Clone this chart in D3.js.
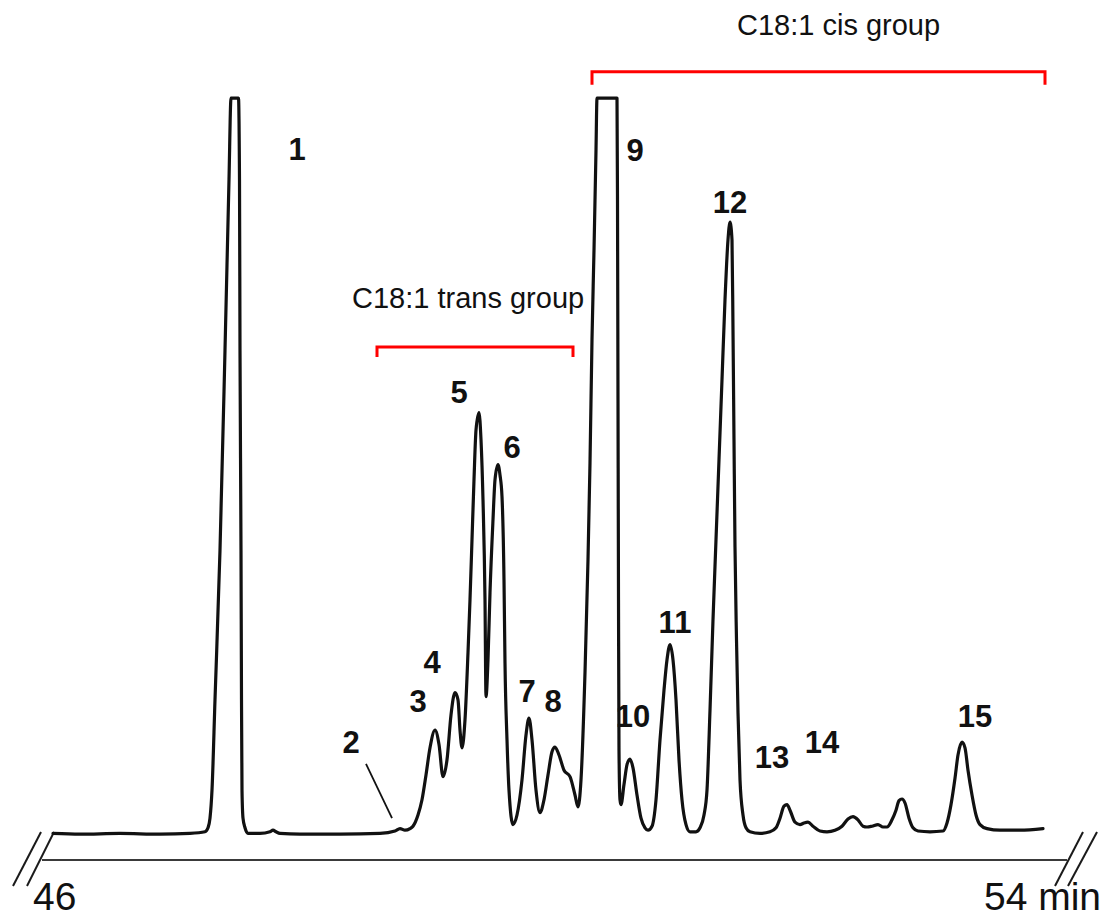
<!DOCTYPE html>
<html>
<head>
<meta charset="utf-8">
<script src="https://cdn.jsdelivr.net/npm/d3@7"></script>
<style>
  html, body { margin: 0; padding: 0; background: #fff; }
  svg { display: block; }
</style>
</head>
<body>
<svg id="chart" width="1105" height="918"></svg>
<script>
// Retention time (min) of each recorded point of the detector trace
const times = [
  46.024, 46.240, 46.560, 46.880, 47.120, 47.240,
  47.264, 47.280, 47.296, 47.320, 47.360, 47.400, 47.432, 47.448, 47.508, 47.516,
  47.520, 47.528, 47.532, 47.536, 47.544, 47.560, 47.584, 47.680, 47.760, 47.784,
  47.808, 47.840, 48.000, 48.320, 48.640, 48.760, 48.800, 48.840, 48.880,
  48.904, 48.944, 48.976, 49.008, 49.040, 49.080, 49.112, 49.144, 49.176, 49.208,
  49.240, 49.264, 49.280, 49.296, 49.320, 49.344, 49.360, 49.376, 49.392, 49.408,
  49.432, 49.448, 49.464, 49.480, 49.488, 49.504, 49.520, 49.544, 49.560, 49.584,
  49.600, 49.616, 49.632, 49.640, 49.656, 49.672, 49.704, 49.736, 49.776, 49.808,
  49.832, 49.856, 49.888, 49.920, 49.952, 49.984, 50.016, 50.040, 50.072, 50.112,
  50.160, 50.200, 50.224, 50.248, 50.280, 50.304, 50.320, 50.336, 50.352, 50.368,
  50.376, 50.536, 50.540, 50.544, 50.548, 50.552, 50.560, 50.568, 50.592, 50.616,
  50.640, 50.664, 50.696, 50.728, 50.760, 50.784, 50.816, 50.848, 50.880, 50.912,
  50.936, 50.960, 50.984, 51.008, 51.032, 51.056, 51.088, 51.120, 51.168, 51.200,
  51.232, 51.256, 51.280, 51.304, 51.328, 51.352, 51.376, 51.400, 51.424, 51.440,
  51.456, 51.464, 51.472, 51.480, 51.492, 51.504, 51.520, 51.544, 51.568, 51.600,
  51.680, 51.760, 51.808, 51.840, 51.872, 51.896, 51.920, 51.960, 52.000, 52.032,
  52.064, 52.104, 52.160, 52.216, 52.280, 52.336, 52.384, 52.424, 52.464, 52.504,
  52.536, 52.576, 52.624, 52.664, 52.696, 52.736, 52.768, 52.792, 52.816, 52.840,
  52.872, 52.904, 52.944, 53.040, 53.144, 53.176, 53.208, 53.240, 53.264, 53.296,
  53.320, 53.344, 53.376, 53.408, 53.440, 53.496, 53.600, 53.760, 53.944
];

// Detector response at each of those times (peaks 1 and 9 run off scale)
const signal = [
  0.2, 0.1, 0.2, 0.1, 0.2, 0.4,
  0.9, 2.1, 5.6, 16.9, 35.6, 60.6, 81.9, 92.1, 92.1, 81.9,
  60.6, 35.6, 16.9, 5.6, 2.1, 0.9, 0.2, 0.2, 0.4, 0.6,
  0.4, 0.2, 0.1, 0.1, 0.2, 0.5, 0.8, 0.6, 0.8,
  1.1, 2.5, 4.4, 7.5, 10.9, 13.1, 11.3, 7.3, 9.4, 15.0,
  17.8, 16.9, 13.1, 10.9, 14.4, 22.8, 29.4, 36.9, 44.4, 50.6,
  52.8, 49.4, 41.9, 29.4, 17.3, 21.9, 30.3, 39.4, 44.4, 46.3,
  45.0, 42.3, 31.9, 21.5, 11.9, 5.6, 1.3, 2.5, 6.9, 12.5,
  14.6, 11.9, 5.6, 2.8, 4.4, 7.5, 10.4, 11.0, 10.0, 8.1,
  7.3, 5.0, 3.5, 6.9, 20.3, 34.4, 46.5, 61.9, 73.1, 85.6,
  92.1, 92.1, 79.4, 54.4, 29.4, 10.6, 4.4, 3.8, 6.3, 8.8,
  9.5, 8.4, 5.0, 2.1, 0.9, 0.6, 1.1, 4.4, 11.9, 18.1,
  21.9, 23.8, 21.9, 16.9, 9.4, 4.4, 1.3, 0.4, 0.4, 0.9,
  2.5, 5.6, 15.6, 26.9, 36.9, 46.9, 56.9, 66.9, 74.4, 76.6,
  74.4, 63.1, 49.4, 36.0, 24.4, 15.3, 6.9, 2.5, 0.9, 0.4,
  0.2, 0.4, 0.9, 2.1, 3.6, 3.8, 3.1, 1.6, 1.3, 1.5,
  1.6, 1.1, 0.5, 0.4, 0.6, 1.1, 2.0, 2.3, 1.9, 1.1,
  1.0, 1.1, 1.3, 1.0, 1.0, 1.9, 3.1, 4.3, 4.5, 4.0,
  2.1, 0.9, 0.5, 0.4, 0.5, 1.5, 3.8, 7.1, 10.0, 11.6,
  10.9, 8.1, 5.0, 2.5, 1.3, 0.8, 0.6, 0.6, 0.8
];

// Peak numbers
const peakNames = ["1", "2", "3", "4", "5", "6", "7", "8", "9", "10", "11", "12", "13", "14", "15"];

// Axis end labels
const axisStartLabel = "46";
const axisEndLabel = "54 min";

// Isomer groups: label and the retention window each bracket spans
const groupNames = ["C18:1 trans group", "C18:1 cis group"];
const groupStart = [48.616, 50.336];
const groupEnd = [50.184, 53.960];

// ---- layout ----
const svg = d3.select("#chart");
const x = d3.scaleLinear().domain([46, 54]).range([50, 1050]);
const y = d3.scaleLinear().domain([0, 100]).range([835, 35]);

// where each peak number sits (time, response level of its baseline)
const labelAt = [
  [47.976, 84.4], [48.408, 10.25], [48.944, 15.4], [49.056, 20.25], [49.272, 54.0],
  [49.696, 47.1], [49.816, 16.6], [50.024, 15.4], [50.680, 84.25], [50.664, 13.5],
  [51.000, 25.25], [51.440, 77.75], [51.776, 8.4], [52.176, 10.25], [53.400, 13.5]
];
// placement of the group captions and brackets (time, level)
const groupTextAt = [[48.416, 65.9], [51.496, 100]];
const groupBarLevel = [61.0, 95.4];

const font = "'Liberation Sans', Arial, Helvetica, sans-serif";

// time axis drawn a little below the signal baseline
const axisY = y(0) + 25;
svg.append("line")
  .attr("x1", x(46) - 8).attr("x2", x(54) + 17)
  .attr("y1", axisY).attr("y2", axisY)
  .attr("stroke", "#3a3a3a").attr("stroke-width", 2.2);

// axis break marks at both ends
const breaks = [
  [x(46) - 37, x(46) - 9], [x(46) - 23, x(46) + 4],
  [x(54) + 5, x(54) + 33], [x(54) + 18, x(54) + 47]
];
breaks.forEach(([xb, xt]) => {
  svg.append("line")
    .attr("x1", xb).attr("y1", axisY + 26)
    .attr("x2", xt).attr("y2", axisY - 28)
    .attr("stroke", "#1a1a1a").attr("stroke-width", 2);
});

svg.append("text")
  .attr("x", x(46) - 17).attr("y", 910)
  .attr("font-family", font).attr("font-size", 39)
  .attr("fill", "#111")
  .text(axisStartLabel);
svg.append("text")
  .attr("x", x(54) - 66).attr("y", 910)
  .attr("font-family", font).attr("font-size", 39)
  .attr("fill", "#111")
  .text(axisEndLabel);

// detector trace
const points = times.map((t, i) => [t, signal[i]]);
const line = d3.line()
  .x(d => x(d[0]))
  .y(d => y(d[1]))
  .curve(d3.curveMonotoneX);

svg.append("path")
  .datum(points)
  .attr("d", line)
  .attr("fill", "none")
  .attr("stroke", "#111")
  .attr("stroke-width", 3.2)
  .attr("stroke-linejoin", "round")
  .attr("stroke-linecap", "round");

// leader line pointing at the small peak 2
svg.append("line")
  .attr("x1", x(48.528)).attr("y1", y(8.9))
  .attr("x2", x(48.736)).attr("y2", y(2.1))
  .attr("stroke", "#111").attr("stroke-width", 1.8);

// peak numbers
svg.append("g")
  .selectAll("text")
  .data(peakNames)
  .join("text")
  .attr("x", (d, i) => x(labelAt[i][0]))
  .attr("y", (d, i) => y(labelAt[i][1]))
  .attr("text-anchor", "middle")
  .attr("font-family", font)
  .attr("font-weight", "bold")
  .attr("font-size", 31)
  .attr("fill", "#111")
  .text(d => d);

// group brackets
groupNames.forEach((name, i) => {
  const x0 = x(groupStart[i]), x1 = x(groupEnd[i]), yb = y(groupBarLevel[i]);
  const tick = i === 0 ? 10 : 13;
  svg.append("path")
    .attr("d", `M${x0},${yb + tick}V${yb}H${x1}V${yb + tick}`)
    .attr("fill", "none")
    .attr("stroke", "#ff0000")
    .attr("stroke-width", 3);
  svg.append("text")
    .attr("x", x(groupTextAt[i][0]))
    .attr("y", y(groupTextAt[i][1]))
    .attr("font-family", font)
    .attr("font-size", 29)
    .attr("fill", "#111")
    .text(name);
});
</script>
</body>
</html>
